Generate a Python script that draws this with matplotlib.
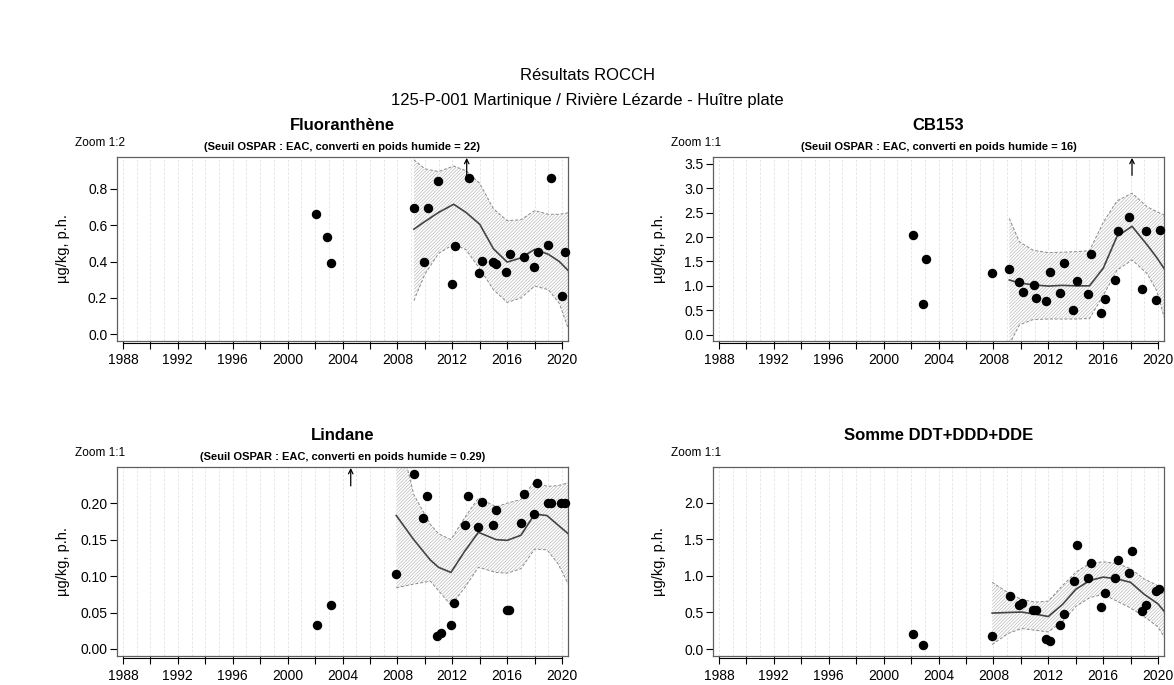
import matplotlib
matplotlib.use("Agg")
import matplotlib.pyplot as plt
from matplotlib.ticker import FixedLocator

plt.rcParams['font.family'] = ['Liberation Sans', 'DejaVu Sans']
plt.rcParams['hatch.linewidth'] = 0.45

# ---- data ----
# Fluoranthene
fluo_x = [2002.05, 2002.88, 2003.16, 2009.2, 2009.93, 2010.21, 2010.96, 2011.95, 2012.2,
          2013.21, 2013.91, 2014.19, 2014.94, 2015.19, 2015.93, 2016.2, 2017.21, 2017.96,
          2018.22, 2018.97, 2019.2, 2019.98, 2020.2]
fluo_y = [0.66, 0.536, 0.39, 0.696, 0.40, 0.696, 0.845, 0.276, 0.484,
          0.86, 0.338, 0.405, 0.396, 0.384, 0.342, 0.44, 0.425, 0.371,
          0.455, 0.49, 0.86, 0.213, 0.453]
fluo_fx = [2009.2, 2010.0, 2011.0, 2012.1, 2013.0, 2014.0, 2015.0, 2016.0, 2017.0, 2018.0,
           2019.0, 2019.8, 2020.45]
fluo_fit = [0.578, 0.62, 0.67, 0.715, 0.67, 0.605, 0.47, 0.397, 0.42, 0.467, 0.44, 0.40, 0.35]
fluo_hi = [0.96, 0.91, 0.895, 0.925, 0.90, 0.83, 0.69, 0.625, 0.63, 0.68, 0.66, 0.66, 0.668]
fluo_lo = [0.185, 0.33, 0.445, 0.495, 0.465, 0.36, 0.245, 0.175, 0.20, 0.265, 0.245, 0.17, 0.03]

# CB153
cb_x = [2002.14, 2002.86, 2003.08, 2007.9, 2009.16, 2009.88, 2010.13, 2010.95, 2011.1,
        2011.84, 2012.09, 2012.86, 2013.13, 2013.82, 2014.12, 2014.87, 2015.09, 2015.83,
        2016.13, 2016.88, 2017.07, 2017.89, 2018.84, 2019.13, 2019.85, 2020.13]
cb_y = [2.044, 0.62, 1.54, 1.254, 1.343, 1.08, 0.876, 1.027, 0.753,
        0.69, 1.275, 0.856, 1.474, 0.50, 1.096, 0.842, 1.646, 0.447,
        0.722, 1.13, 2.133, 2.415, 0.945, 2.133, 0.708, 2.147]
cb_fx = [2009.16, 2009.9, 2010.9, 2012.0, 2013.0, 2014.0, 2015.0, 2016.0, 2017.0, 2018.1,
         2019.2, 2019.9, 2020.45]
cb_fit = [1.12, 1.06, 1.02, 0.995, 1.01, 1.0, 1.0, 1.36, 2.01, 2.22, 1.84, 1.58, 1.35]
cb_hi = [2.38, 1.90, 1.73, 1.68, 1.69, 1.70, 1.72, 2.30, 2.74, 2.90, 2.62, 2.52, 2.45]
cb_lo = [-0.2, 0.20, 0.31, 0.32, 0.32, 0.32, 0.33, 0.80, 1.32, 1.53, 1.25, 0.90, 0.35]

# Lindane
lind_x = [2002.17, 2003.13, 2007.92, 2009.19, 2009.88, 2010.17, 2010.9, 2011.15, 2011.88,
          2012.13, 2012.91, 2013.18, 2013.89, 2014.15, 2014.94, 2015.18, 2015.99, 2016.16,
          2016.97, 2017.19, 2017.94, 2018.19, 2018.97, 2019.17, 2019.95, 2020.19]
lind_y = [0.0324, 0.060, 0.1028, 0.240, 0.180, 0.210, 0.018, 0.022, 0.033,
          0.063, 0.170, 0.210, 0.168, 0.202, 0.170, 0.190, 0.054, 0.054,
          0.173, 0.213, 0.185, 0.228, 0.200, 0.200, 0.200, 0.200]
lind_fx = [2007.92, 2009.19, 2010.4, 2011.0, 2011.9, 2012.9, 2013.9, 2015.2, 2016.0, 2017.0,
           2018.0, 2018.9, 2019.7, 2020.45]
lind_fit = [0.183, 0.150, 0.122, 0.112, 0.105, 0.134, 0.160, 0.150, 0.149, 0.156, 0.185,
            0.183, 0.170, 0.158]
lind_hi = [0.31, 0.212, 0.171, 0.158, 0.150, 0.180, 0.207, 0.195, 0.200, 0.205, 0.230,
           0.223, 0.224, 0.228]
lind_lo = [0.084, 0.089, 0.093, 0.080, 0.060, 0.084, 0.112, 0.105, 0.104, 0.110, 0.137,
           0.136, 0.117, 0.089]

# Somme DDT+DDD+DDE
ddt_x = [2002.15, 2002.87, 2007.91, 2009.18, 2009.87, 2010.12, 2010.86, 2011.11, 2011.86,
         2012.1, 2012.85, 2013.12, 2013.84, 2014.12, 2014.89, 2015.14, 2015.86, 2016.13,
         2016.87, 2017.1, 2017.89, 2018.09, 2018.83, 2019.13, 2019.83, 2020.1]
ddt_y = [0.201, 0.056, 0.178, 0.726, 0.60, 0.632, 0.534, 0.534, 0.136,
         0.108, 0.333, 0.482, 0.927, 1.419, 0.969, 1.176, 0.581, 0.763,
         0.969, 1.218, 1.044, 1.344, 0.515, 0.60, 0.796, 0.815]
ddt_fx = [2007.91, 2009.05, 2010.05, 2011.04, 2012.0, 2013.03, 2014.02, 2015.02, 2016.0,
          2016.99, 2017.99, 2018.98, 2019.98, 2020.45]
ddt_fit = [0.492, 0.50, 0.506, 0.478, 0.445, 0.609, 0.82, 0.937, 0.984, 0.96, 0.913, 0.75,
           0.62, 0.515]
ddt_hi = [0.913, 0.773, 0.679, 0.642, 0.656, 0.867, 1.054, 1.171, 1.194, 1.171, 1.10, 0.96,
          0.867, 0.82]
ddt_lo = [0.061, 0.211, 0.281, 0.257, 0.234, 0.375, 0.585, 0.703, 0.749, 0.656, 0.562,
          0.445, 0.304, 0.164]

year_ticks = list(range(1988, 2021, 4))
year_minor = list(range(1990, 2021, 4))
year_grid = list(range(1988, 2021))

fig = plt.figure(figsize=(11.74, 6.85), dpi=100)
W, H = 1174.0, 685.0

fig.text(0.5, 1 - 75 / H, "Résultats ROCCH", ha='center', va='center', fontsize=12)
fig.text(0.5, 1 - 100 / H, "125-P-001 Martinique / Rivière Lézarde - Huître plate",
         ha='center', va='center', fontsize=12)


def panel(left, top, bottom, title, sub, zoom, x, y, fx, fit, lo, hi, ylim, yticks, yfmt,
          arrow_x=None):
    ax = fig.add_axes([left / W, 1 - bottom / H, 451 / W, (bottom - top) / H])
    ax.set_xlim(1987.57, 2020.43)
    ax.set_ylim(*ylim)
    for g in year_grid:
        ax.axvline(g, color='#e2e2e2', lw=0.6, ls=(0, (3, 2)), zorder=0)
    ax.fill_between(fx, lo, hi, facecolor='white', edgecolor='#b4b4b4', hatch='//////////',
                    linewidth=0, zorder=1)
    ax.plot(fx, hi, color='#8a8a8a', lw=0.7, ls=(0, (3, 2)), zorder=2)
    ax.plot(fx, lo, color='#8a8a8a', lw=0.7, ls=(0, (3, 2)), zorder=2)
    ax.plot(fx, fit, color='#444444', lw=1.2, zorder=3)
    ax.plot(x, y, 'o', color='black', ms=5.8, zorder=4, clip_on=False)
    if arrow_x is not None:
        ax.annotate('', xy=(arrow_x, 0.995), xytext=(arrow_x, 0.9),
                    xycoords=('data', 'axes fraction'), textcoords=('data', 'axes fraction'),
                    arrowprops=dict(arrowstyle='->', lw=0.9, color='black',
                                    mutation_scale=8, shrinkA=0, shrinkB=0))
    for s in ax.spines.values():
        s.set_color('#606060')
        s.set_linewidth(0.9)
    ax.set_xticks(year_ticks)
    ax.set_xticklabels([str(t) for t in year_ticks])
    ax.xaxis.set_minor_locator(FixedLocator(year_minor))
    ax.tick_params(axis='x', which='both', length=6, width=0.8, color='black',
                   labelsize=10, pad=3)
    ax.set_yticks(yticks)
    ax.set_yticklabels([yfmt.format(t) for t in yticks])
    ax.tick_params(axis='y', length=5, width=0.8, color='black', labelsize=10, pad=2)
    ax.plot([1988, 2020], [-0.012, -0.012], transform=ax.get_xaxis_transform(),
            clip_on=False, color='black', lw=0.8)
    ax.set_ylabel("µg/kg, p.h.", fontsize=10.5)
    ax.yaxis.set_label_coords(-47 / 451, 0.5)
    cx = (left + 451 / 2) / W
    fig.text(cx, 1 - (top - 31) / H, title, ha='center', va='center', fontsize=12,
             fontweight='bold')
    if sub:
        fig.text(cx, 1 - (top - 10) / H, sub, ha='center', va='center', fontsize=8,
                 fontweight='bold')
    fig.text((left - 42) / W, 1 - (top - 14) / H, zoom, ha='left', va='center', fontsize=8.5)
    return ax


panel(117, 157, 341, "Fluoranthène", "(Seuil OSPAR : EAC, converti en poids humide = 22)",
      "Zoom 1:2", fluo_x, fluo_y, fluo_fx, fluo_fit, fluo_lo, fluo_hi,
      (-0.037, 0.975), [0.0, 0.2, 0.4, 0.6, 0.8], "{:.1f}", arrow_x=2013.05)
panel(713, 157, 341, "CB153", "(Seuil OSPAR : EAC, converti en poids humide = 16)",
      "Zoom 1:1", cb_x, cb_y, cb_fx, cb_fit, cb_lo, cb_hi,
      (-0.13, 3.64), [0.0, 0.5, 1.0, 1.5, 2.0, 2.5, 3.0, 3.5], "{:.1f}", arrow_x=2018.1)
panel(117, 467, 656, "Lindane", "(Seuil OSPAR : EAC, converti en poids humide = 0.29)",
      "Zoom 1:1", lind_x, lind_y, lind_fx, lind_fit, lind_lo, lind_hi,
      (-0.0096, 0.2496), [0.0, 0.05, 0.10, 0.15, 0.20], "{:.2f}", arrow_x=2004.6)
panel(713, 467, 656, "Somme DDT+DDD+DDE", None,
      "Zoom 1:1", ddt_x, ddt_y, ddt_fx, ddt_fit, ddt_lo, ddt_hi,
      (-0.095, 2.49), [0.0, 0.5, 1.0, 1.5, 2.0], "{:.1f}")

fig.savefig("out.png", dpi=100)
